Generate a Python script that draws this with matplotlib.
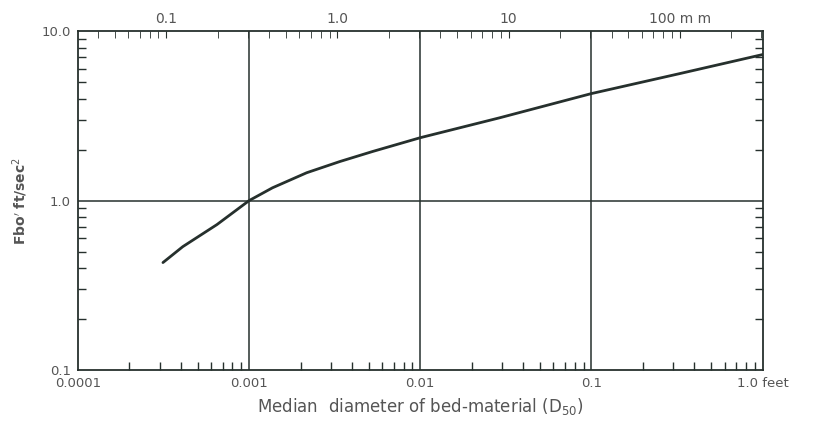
import numpy as np
import matplotlib.pyplot as plt
from matplotlib.ticker import FixedLocator, LogLocator, NullFormatter

# curve: median diameter (feet) vs Fbo (ft/sec^2)
diam_ft = [0.000314, 0.00041, 0.000649, 0.001, 0.00137, 0.00217, 0.00339, 0.00528,
           0.01, 0.0291, 0.1, 0.327, 1.0]
fbo = [0.431, 0.535, 0.722, 1.0, 1.19, 1.46, 1.70, 1.95,
       2.35, 3.08, 4.28, 5.61, 7.27]

x_ticks = [0.0001, 0.001, 0.01, 0.1, 1.0]
x_labels = ['0.0001', '0.001', '0.01', '0.1', '1.0 feet']
y_ticks = [0.1, 1.0, 10.0]
y_labels = ['0.1', '1.0', '10.0']
mm_ticks = [0.1, 1.0, 10, 100]
mm_labels = ['0.1', '1.0', '10', '100 m m']

ink = '#26302d'
txt = '#555555'

fig = plt.figure(figsize=(8.2, 4.38), dpi=100)
ax = fig.add_axes([0.095, 0.155, 0.835, 0.774])
ax.set_xscale('log')
ax.set_yscale('log')
ax.set_xlim(0.0001, 1.0)
ax.set_ylim(0.1, 10.0)

ax.plot(diam_ft, fbo, color=ink, lw=2.0, solid_capstyle='round', solid_joinstyle='round')

# grid at the decades
for xv in x_ticks[1:-1]:
    ax.axvline(xv, color=ink, lw=1.1)
ax.axhline(1.0, color=ink, lw=1.1)

for s in ax.spines.values():
    s.set_color(ink)
    s.set_linewidth(1.3)

ax.xaxis.set_major_locator(FixedLocator(x_ticks))
ax.set_xticklabels(x_labels)
ax.yaxis.set_major_locator(FixedLocator(y_ticks))
ax.set_yticklabels(y_labels)
ax.xaxis.set_minor_locator(LogLocator(base=10, subs=np.arange(2, 10)))
ax.yaxis.set_minor_locator(LogLocator(base=10, subs=np.arange(2, 10)))
ax.xaxis.set_minor_formatter(NullFormatter())
ax.yaxis.set_minor_formatter(NullFormatter())
ax.tick_params(which='both', direction='in', color=ink, labelcolor=txt,
               labelsize=9.5, right=True)
ax.tick_params(which='major', length=0, pad=5)
ax.tick_params(which='minor', length=6, width=1.0)

# top axis in millimetres
top = ax.secondary_xaxis('top', functions=(lambda f: f * 304.8, lambda m: m / 304.8))
top.xaxis.set_major_locator(FixedLocator(mm_ticks))
top.set_xticklabels(mm_labels)
top.xaxis.set_minor_locator(LogLocator(base=10, subs=np.arange(2, 10)))
top.xaxis.set_minor_formatter(NullFormatter())
top.tick_params(which='both', direction='in', color=ink, labelcolor=txt, labelsize=10)
top.tick_params(which='major', length=5, pad=4)
top.tick_params(which='minor', length=5)
top.spines['top'].set_visible(False)

ax.set_xlabel(r'Median  diameter of bed-material (D$_{50}$)', fontsize=12,
              color=txt, labelpad=4)
ax.set_ylabel(r"Fbo$'$ ft/sec$^2$", fontsize=10, fontweight='bold', color=txt, labelpad=8)

plt.savefig('out.png', dpi=100)
